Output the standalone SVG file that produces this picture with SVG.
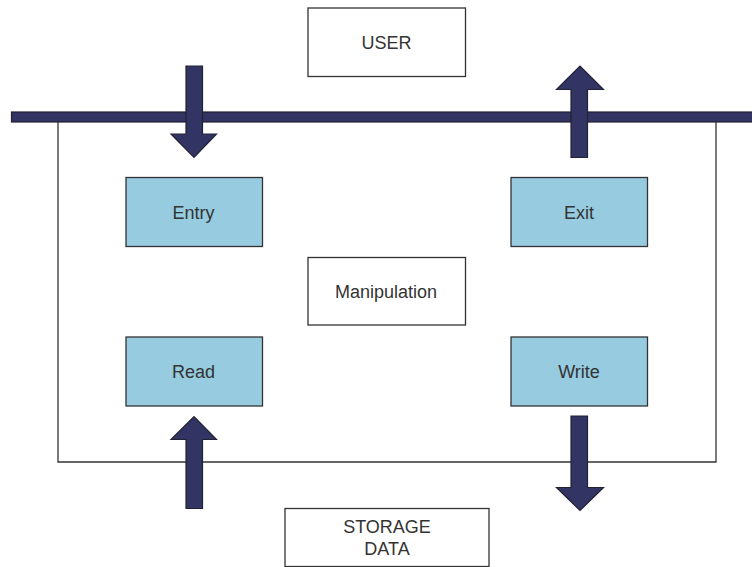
<svg xmlns="http://www.w3.org/2000/svg" width="752" height="567" viewBox="0 0 752 567">
<style>
.box{fill:#ffffff;stroke:#333333;stroke-width:1.3}
.blue{fill:#96cbe0;stroke:#333333;stroke-width:1.3}
.lbl{font-family:"Liberation Sans",Arial,sans-serif;font-size:18px;fill:#333333;text-anchor:middle}
.arrow{fill:#323464;stroke:#222233;stroke-width:1.2;stroke-linejoin:miter}
.frame{fill:none;stroke:#333333;stroke-width:1.3}
</style>
<rect width="752" height="567" fill="#ffffff"/>
<g id="frame">
<path class="frame" d="M58,122 V462 H716 V122"/>
<rect x="11.5" y="112" width="745" height="10" fill="#323464" stroke="#222233" stroke-width="1.2"/>
</g>
<g id="user"><rect class="box" x="308" y="8" width="157.5" height="68.5"/><text class="lbl" x="386.5" y="48.5">USER</text></g>
<g id="entry"><rect class="blue" x="126" y="177.5" width="136.5" height="69"/><text class="lbl" x="193.5" y="219">Entry</text></g>
<g id="exit"><rect class="blue" x="511" y="177.5" width="136.5" height="69"/><text class="lbl" x="579" y="219">Exit</text></g>
<g id="manipulation"><rect class="box" x="308" y="257.5" width="157.5" height="67.5"/><text class="lbl" x="386" y="298">Manipulation</text></g>
<g id="read"><rect class="blue" x="126" y="337" width="136.5" height="69"/><text class="lbl" x="193.5" y="377.5">Read</text></g>
<g id="write"><rect class="blue" x="511" y="337" width="136.5" height="69"/><text class="lbl" x="579" y="377.5">Write</text></g>
<g id="storage"><rect class="box" x="285" y="508.5" width="204" height="58"/><text class="lbl" x="387" y="532.5">STORAGE</text><text class="lbl" x="387" y="555">DATA</text></g>
<g id="connectors">
<path class="arrow" d="M186,66 H202.5 V134 H216.5 L194,157.5 L171,134 H186 Z"/>
<path class="arrow" d="M571,157.5 H587.5 V89.5 H603.5 L580,66 L556.5,89.5 H571 Z"/>
<path class="arrow" d="M186,508.5 H202.5 V439.5 H216.5 L194,416.5 L171,439.5 H186 Z"/>
<path class="arrow" d="M571,416 H587.5 V487.5 H603.5 L580,510.5 L556.5,487.5 H571 Z"/>
</g>
</svg>
